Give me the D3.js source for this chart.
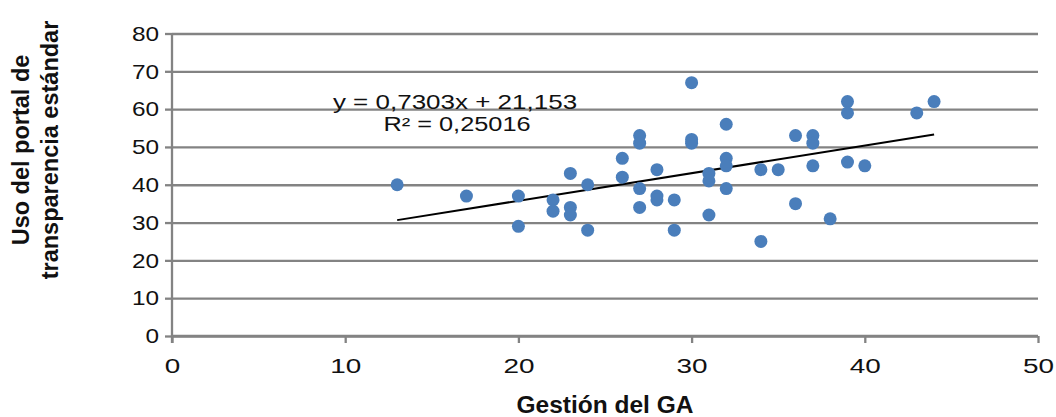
<!DOCTYPE html>
<html>
<head>
<meta charset="utf-8">
<script src="https://cdn.jsdelivr.net/npm/d3@7"></script>
<style>
body{margin:0;background:#fff;}
svg{display:block;font-family:"Liberation Sans",Arial,sans-serif;}
</style>
</head>
<body>
<div id="graph"></div>
<script>
// datos: Gestion del GA (x) y uso del portal (y)
var gestion = [13,17,20,20,22,22,23,23,23,24,24,26,26,27,27,27,27,28,28,28,29,29,30,30,30,
               31,31,31,32,32,32,32,34,34,35,36,36,37,37,37,38,39,39,39,40,43,44];
var uso     = [40,37,37,29,36,33,43,34,32,40,28,47,42,53,51,39,34,44,37,36,36,28,67,52,51,
               43,41,32,56,47,45,39,44,25,44,53,35,53,51,45,31,62,59,46,45,59,62];
var xTicks = [0,10,20,30,40,50];
var yTicks = [0,10,20,30,40,50,60,70,80];
var pendiente = 0.7303, corte = 21.153;
var ecuacion = "y = 0,7303x + 21,153", r2 = "R² = 0,25016";
var tituloX = "Gestión del GA";
var tituloY = ["Uso del portal de","transparencia estándar"];

var W = 1056, H = 417;
var m = {top:33.5, right:18, bottom:81, left:172};
var w = W-m.left-m.right, h = H-m.top-m.bottom;

var svg = d3.select("#graph").append("svg").attr("width",W).attr("height",H);
var g = svg.append("g").attr("transform","translate("+m.left+","+m.top+")");

var x = d3.scaleLinear().domain([0,50]).range([0,w]);
var y = d3.scaleLinear().domain([0,80]).range([h,0]);

// lineas de la rejilla
var grid = g.append("g").call(d3.axisLeft(y).tickValues(yTicks).tickSize(-w).tickFormat(""));
grid.select(".domain").remove();
grid.selectAll("line").attr("stroke","#838383").attr("stroke-width",2.3);

// eje y
var ya = g.append("g").call(d3.axisLeft(y).tickValues(yTicks).tickSize(7).tickPadding(6));
ya.select(".domain").attr("d","M0,0V"+(h+7)).attr("stroke","#838383").attr("stroke-width",2.3);
ya.selectAll("line").attr("stroke","#838383").attr("stroke-width",2.3);
ya.selectAll("text").attr("font-size",21).attr("fill","#111")
  .attr("transform",function(){ var xx=+d3.select(this).attr("x"); return "translate("+xx+",0) scale(1.16,1) translate("+(-xx)+",0)"; });

// eje x
var xa = g.append("g").attr("transform","translate(0,"+h+")")
  .call(d3.axisBottom(x).tickValues(xTicks).tickSize(7).tickPadding(15));
xa.select(".domain").attr("stroke","#838383").attr("stroke-width",2.3).attr("d","M0,0H"+w);
xa.selectAll("line").attr("stroke","#838383").attr("stroke-width",2.3);
xa.selectAll("text").attr("font-size",21).attr("fill","#111")
  .attr("transform","scale(1.33,1)");

// linea de tendencia
var xmin = d3.min(gestion), xmax = d3.max(gestion);
g.append("line")
  .attr("x1",x(xmin)).attr("y1",y(pendiente*xmin+corte))
  .attr("x2",x(xmax)).attr("y2",y(pendiente*xmax+corte))
  .attr("stroke","#000").attr("stroke-width",2);

// puntos
g.selectAll("circle").data(gestion).enter().append("circle")
  .attr("cx",function(d){return x(d);})
  .attr("cy",function(d,i){return y(uso[i]);})
  .attr("r",6.5).attr("fill","#4a7ebb");

// ecuacion y R2
svg.append("text").attr("transform","translate(455,109) scale(1.3,1)")
  .attr("text-anchor","middle").attr("font-size",20).attr("fill","#111").text(ecuacion);
svg.append("text").attr("transform","translate(457,131) scale(1.3,1)")
  .attr("text-anchor","middle").attr("font-size",19.5).attr("fill","#111").text(r2);

// titulos
svg.append("text").attr("x",m.left+w/2).attr("y",413).attr("text-anchor","middle")
  .attr("font-size",24.5).attr("font-weight","bold").attr("fill","#111").text(tituloX);
var yt = svg.append("text").attr("transform","translate(0,150) rotate(-90)")
  .attr("text-anchor","middle").attr("font-size",23.5).attr("font-weight","bold").attr("fill","#111");
yt.append("tspan").attr("x",0).attr("y",28.5).text(tituloY[0]);
yt.append("tspan").attr("x",0).attr("y",57.5).text(tituloY[1]);
</script>
</body>
</html>
